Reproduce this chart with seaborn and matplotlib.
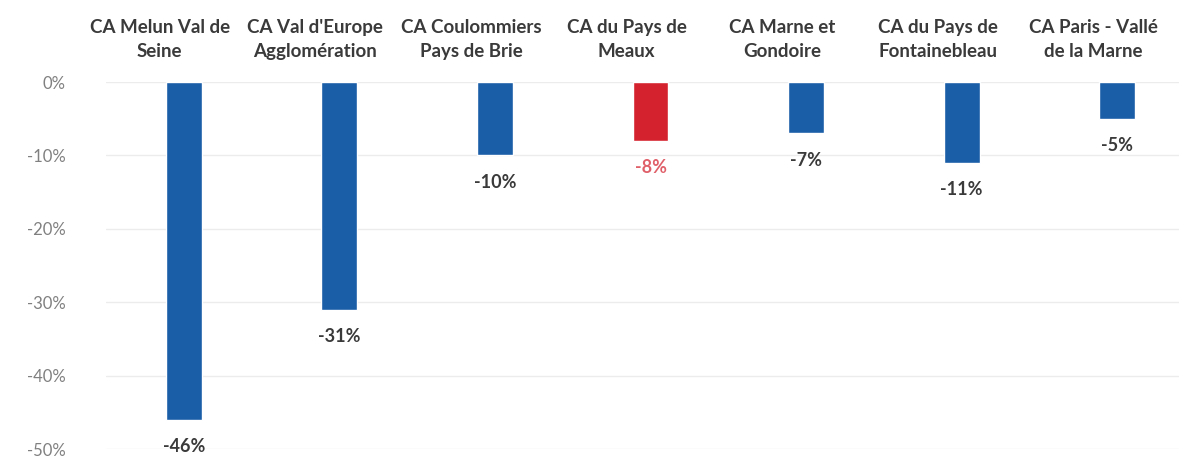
import matplotlib
matplotlib.use("Agg")
import matplotlib.pyplot as plt
import matplotlib.transforms as mtransforms
import seaborn as sns
import pandas as pd

categories = ["CA Melun Val de\nSeine", "CA Val d'Europe\nAgglomération", "CA Coulommiers\nPays de Brie",
              "CA du Pays de\nMeaux", "CA Marne et\nGondoire", "CA du Pays de\nFontainebleau",
              "CA Paris - Vallé\nde la Marne"]
values = [-46, -31, -10, -8, -7, -11, -5]
highlight = [False, False, False, True, False, False, False]

sns.set_theme(style="white")
plt.rcParams['font.family'] = ['Lato', 'DejaVu Sans']

BLUE = "#1a5ea8"
RED = "#d4222e"

df = pd.DataFrame({"cat": categories, "val": values,
                   "grp": ["hl" if h else "base" for h in highlight]})

fig = plt.figure(figsize=(11.79, 4.59), dpi=100)
ax = fig.add_axes([106/1179, 10/459, 1 - 106/1179, (449-82)/459])

sns.barplot(data=df, x="cat", y="val", hue="grp", palette={"base": BLUE, "hl": RED},
            dodge=False, width=0.23, legend=False, saturation=1, ax=ax, zorder=3)

ax.set_ylim(-50, 0)
ax.set_xlim(-0.5, 6.5 - 16/155.5)
ax.set_yticks([0, -10, -20, -30, -40, -50])
ax.set_yticklabels([f"{t}%" for t in [0, -10, -20, -30, -40, -50]], color="#808080", fontsize=12)
ax.tick_params(axis="y", length=0, pad=29)
ax.grid(axis="y", color="#ececec", linewidth=1, zorder=0)
ax.xaxis.tick_top()
ax.tick_params(axis="x", length=0, pad=16)
ax.set_xticks(range(len(categories)))
ax.set_xticklabels(categories, fontsize=13.5, fontweight="bold", color="#3a3a3a", linespacing=1.5)
shift = mtransforms.ScaledTranslation(-0.24, 0, fig.dpi_scale_trans)
for lbl in ax.get_xticklabels():
    lbl.set_transform(lbl.get_transform() + shift)
ax.set_xlabel("")
ax.set_ylabel("")
for s in ax.spines.values():
    s.set_visible(False)

for i, (v, h) in enumerate(zip(values, highlight)):
    ax.text(i, v - 3.7, f"{v}%", ha="center", va="center", fontsize=13, fontweight="bold",
            color="#e0606a" if h else "#3a3a3a")

fig.savefig("out.png", dpi=100)
